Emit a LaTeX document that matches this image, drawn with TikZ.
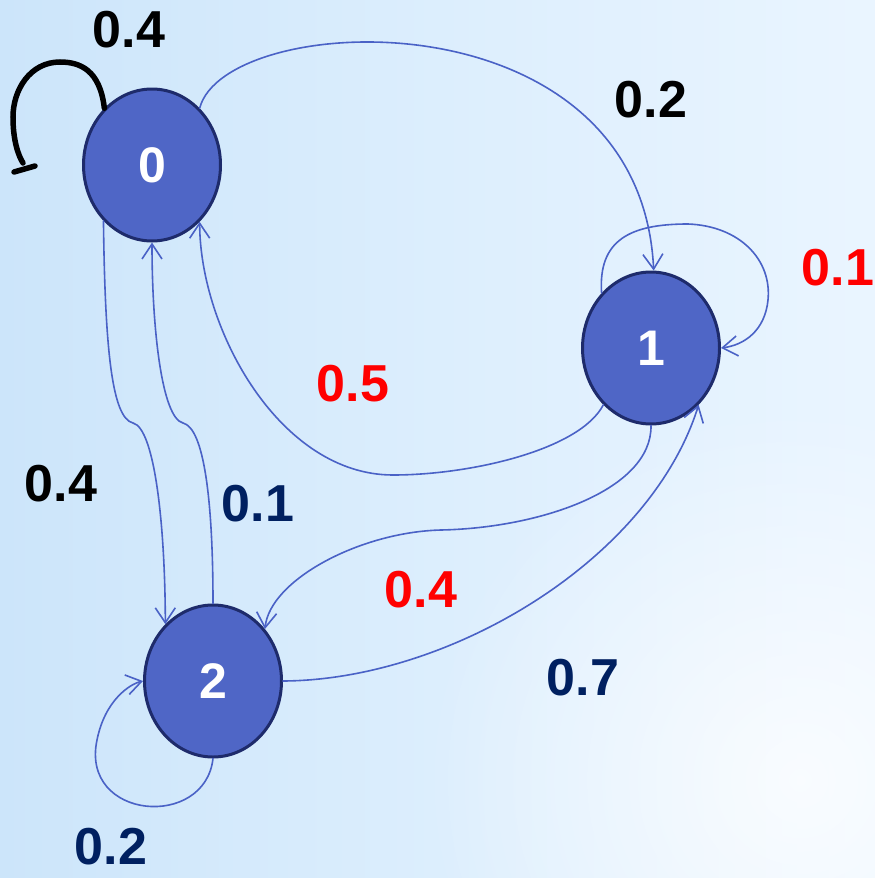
\documentclass[tikz,border=0pt]{standalone}
\usepackage{fontspec}
\setmainfont{Liberation Sans}
\usetikzlibrary{shapes.geometric,arrows.meta,fadings}
\definecolor{bgL}{HTML}{CCE5FA}
\definecolor{bgM}{HTML}{DCEEFD}
\definecolor{bgR}{HTML}{EAF5FF}
\definecolor{nodefill}{HTML}{4F66C6}
\definecolor{nodeline}{HTML}{1E2B6B}
\definecolor{edgecol}{HTML}{4A62C6}
\definecolor{navy}{HTML}{002060}
\definecolor{lblred}{HTML}{FF0000}
\tikzfading[name=glowfade, inner color=transparent!0, outer color=transparent!100]
\begin{document}
\begin{tikzpicture}[x=1pt,y=-1pt,
  state/.style={ellipse, draw=nodeline, line width=3pt, fill=nodefill,
    minimum width=137pt, minimum height=152pt, inner sep=0pt, text=white,
    font=\fontsize{50}{52}\selectfont\bfseries},
  edge/.style={draw=edgecol, line width=1.6pt, line cap=round,
    -{Straight Barb[length=15pt,width=20pt]}},
  lbl/.style={font=\fontsize{52}{56}\selectfont\bfseries, inner sep=0pt},
  loopzero/.style={draw=black, line width=5.5pt, line cap=round}]
\useasboundingbox (0,0) rectangle (875,878);
\shade[left color=bgL, right color=bgR, middle color=bgM] (0,0) rectangle (875,878);
\fill[white, opacity=0.75, path fading=glowfade] (800,780) circle (380);

% nodes
\node[state] (n0) at (152,165) {0};
\node[state] (n1) at (651,348) {1};
\node[state] (n2) at (213,681) {2};

% edges
\draw[edge] (n0.50) .. controls (225,10) and (640,-10) .. (n1.88);
\draw[edge] (n1.132) .. controls (598,240) and (630,224) .. (688,224)
  .. controls (740,226) and (772,260) .. (768,300)
  .. controls (765,330) and (745,345) .. (n1.0);
\draw[edge] (n1.230) .. controls (580,450) and (470,475) .. (393,475)
  .. controls (280,475) and (200,330) .. (n0.310);
\draw[edge] (n0.229) .. controls (105,350) and (112,418) .. (133,423)
  .. controls (154,428) and (165,520) .. (n2.130);
\draw[edge] (n2.90) .. controls (213,500) and (204,428) .. (183,423)
  .. controls (162,418) and (152,330) .. (n0.270);
\draw[edge] (n1.270) .. controls (652,490) and (540,528) .. (441,530)
  .. controls (360,532) and (270,580) .. (n2.45);
\draw[edge] (n2.0) .. controls (450,680) and (650,560) .. (n1.310);
\draw[edge] (n2.270) .. controls (205,830) and (80,820) .. (97,740)
  .. controls (105,700) and (130,684) .. (n2.180);

% black self loop on 0
\coordinate (l0end) at (23,163);
\draw[loopzero] (n0.130) .. controls (100,70) and (80,62) .. (60,62)
  .. controls (30,62) and (13,90) .. (13,117)
  .. controls (13,140) and (18,155) .. (l0end);
\coordinate (l0a) at (14,172);
\coordinate (l0b) at (35,166);
\draw[loopzero] (l0a) -- (l0b);

% labels
\node[lbl, text=black] (t1) at (129,30) {0.4};
\node[lbl, text=black] (t2) at (651,100) {0.2};
\node[lbl, text=lblred] (t3) at (838,268) {0.1};
\node[lbl, text=lblred] (t4) at (353,384) {0.5};
\node[lbl, text=black] (t5) at (61,484) {0.4};
\node[lbl, text=navy] (t6) at (258,504) {0.1};
\node[lbl, text=lblred] (t7) at (421,590) {0.4};
\node[lbl, text=navy] (t8) at (583,678) {0.7};
\node[lbl, text=navy] (t9) at (111,847) {0.2};
\end{tikzpicture}
\end{document}
